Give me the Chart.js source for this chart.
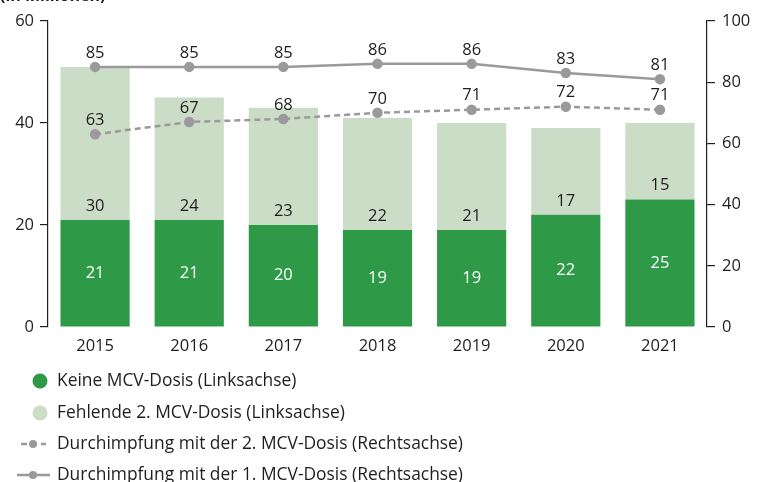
<!DOCTYPE html>
<html>
<head>
<meta charset="utf-8">
<script src="https://cdn.jsdelivr.net/npm/chart.js@4.4.1/dist/chart.umd.min.js"></script>
<style>
    html, body { margin: 0; padding: 0; background: #fff; }
    canvas { display: block; }
</style>
</head>
<body>
<canvas id="chart" width="764" height="482"></canvas>
<script>
// data (Millionen / Prozent)
const years = ['2015', '2016', '2017', '2018', '2019', '2020', '2021'];
const keineDosis = [21, 21, 20, 19, 19, 22, 25];
const fehlendeDosis = [30, 24, 23, 22, 21, 17, 15];
const durchimpfung2 = [63, 67, 68, 70, 71, 72, 71];
const durchimpfung1 = [85, 85, 85, 86, 86, 83, 81];
const leftTicks = [0, 20, 40, 60];
const rightTicks = [0, 20, 40, 60, 80, 100];

const darkGreen = '#2e9a48';
const lightGreen = '#cbddc7';
const grey = '#9a9a9a';
const ink = '#1e1e1e';
const fontFam = "'Open Sans', sans-serif";

Chart.defaults.font.family = fontFam;
Chart.defaults.font.size = 16;
Chart.defaults.color = ink;

// value labels on bars and line points
const valueLabels = {
    id: 'valueLabels',
    afterDatasetsDraw(chart) {
        let ctx = chart.ctx;
        ctx.save();
        ctx.font = '16.5px ' + fontFam;
        ctx.textAlign = 'center';
        ctx.textBaseline = 'middle';
        chart.data.datasets.forEach((ds, i) => {
            let meta = chart.getDatasetMeta(i);
            meta.data.forEach((el, j) => {
                let v = ds.data[j];
                if (ds.type === 'line') {
                    ctx.fillStyle = ink;
                    ctx.fillText(v, el.x, el.y - 14);
                } else if (i === 2) {
                    // dark segment: centred, white
                    ctx.fillStyle = '#ffffff';
                    ctx.fillText(v, el.x, (el.y + el.base) / 2);
                } else {
                    ctx.fillStyle = ink;
                    ctx.fillText(v, el.x, el.base - 14);
                }
            });
        });
        ctx.restore();
    }
};

// vertical legend under the plot + cut title at the top
const sideBits = {
    id: 'sideBits',
    afterDraw(chart) {
        let ctx = chart.ctx;
        ctx.save();
        ctx.fillStyle = ink;
        ctx.font = 'bold 16px ' + fontFam;
        ctx.textBaseline = 'alphabetic';
        ctx.textAlign = 'left';
        ctx.fillText('(in Millionen)', 0, 1);

        let items = [
            { kind: 'dot', color: darkGreen, ds: 2, y: 381 },
            { kind: 'dot', color: lightGreen, ds: 3, y: 413 },
            { kind: 'dash', color: grey, ds: 1, y: 444 },
            { kind: 'solid', color: grey, ds: 0, y: 475 }
        ];
        ctx.font = '17.4px ' + fontFam;
        ctx.textBaseline = 'middle';
        items.forEach(it => {
            if (it.kind === 'dot') {
                ctx.fillStyle = it.color;
                ctx.beginPath();
                ctx.arc(40, it.y, 7.5, 0, Math.PI * 2);
                ctx.fill();
            } else {
                ctx.strokeStyle = it.color;
                ctx.lineWidth = 2.5;
                ctx.beginPath();
                if (it.kind === 'dash') {
                    ctx.setLineDash([6, 4]);
                    ctx.moveTo(21, it.y);
                    ctx.lineTo(46, it.y);
                } else {
                    ctx.setLineDash([]);
                    ctx.moveTo(17, it.y);
                    ctx.lineTo(50, it.y);
                }
                ctx.stroke();
                ctx.setLineDash([]);
                ctx.fillStyle = it.color;
                ctx.beginPath();
                ctx.arc(33, it.y, 4, 0, Math.PI * 2);
                ctx.fill();
            }
            ctx.fillStyle = ink;
            ctx.fillText(chart.data.datasets[it.ds].label, 57, it.y);
        });
        ctx.restore();
    }
};

new Chart(document.getElementById('chart'), {
    data: {
        labels: years,
        datasets: [
            {
                type: 'line',
                label: 'Durchimpfung mit der 1. MCV-Dosis (Rechtsachse)',
                data: durchimpfung1,
                yAxisID: 'yR',
                borderColor: grey,
                backgroundColor: grey,
                borderWidth: 2.5,
                pointRadius: 4,
                pointHoverRadius: 4,
                tension: 0,
                order: 0
            },
            {
                type: 'line',
                label: 'Durchimpfung mit der 2. MCV-Dosis (Rechtsachse)',
                data: durchimpfung2,
                yAxisID: 'yR',
                borderColor: grey,
                backgroundColor: grey,
                borderWidth: 2.5,
                borderDash: [6, 4],
                pointRadius: 4,
                pointHoverRadius: 4,
                tension: 0,
                order: 0
            },
            {
                type: 'bar',
                label: 'Keine MCV-Dosis (Linksachse)',
                data: keineDosis,
                yAxisID: 'yL',
                stack: 'mcv',
                backgroundColor: darkGreen,
                barPercentage: 0.735,
                categoryPercentage: 1,
                order: 1
            },
            {
                type: 'bar',
                label: 'Fehlende 2. MCV-Dosis (Linksachse)',
                data: fehlendeDosis,
                yAxisID: 'yL',
                stack: 'mcv',
                backgroundColor: lightGreen,
                barPercentage: 0.735,
                categoryPercentage: 1,
                order: 1
            }
        ]
    },
    options: {
        responsive: false,
        animation: false,
        layout: { padding: { top: 21, left: 0, right: 0, bottom: 0 } },
        plugins: {
            legend: { display: false },
            title: { display: false },
            tooltip: { enabled: false }
        },
        scales: {
            x: {
                stacked: true,
                grid: { display: false, drawTicks: false },
                border: { display: false },
                ticks: { padding: 9, font: { size: 16.5 }, color: ink },
                afterFit(s) { s.height = 155; }
            },
            yL: {
                position: 'left',
                stacked: true,
                min: 0,
                max: 60,
                afterBuildTicks(s) { s.ticks = leftTicks.map(v => ({ value: v })); },
                grid: { drawOnChartArea: false, drawTicks: true, tickLength: 8, color: ink, lineWidth: 1.2 },
                border: { display: true, color: ink, width: 1.2 },
                ticks: { padding: 6, font: { size: 16.5 }, color: ink },
                afterFit(s) { s.width = 48; }
            },
            yR: {
                position: 'right',
                min: 0,
                max: 100,
                afterBuildTicks(s) { s.ticks = rightTicks.map(v => ({ value: v })); },
                grid: { drawOnChartArea: false, drawTicks: true, tickLength: 8, color: ink, lineWidth: 1.2 },
                border: { display: true, color: ink, width: 1.2 },
                ticks: { padding: 7, font: { size: 16.5 }, color: ink },
                afterFit(s) { s.width = 57; }
            }
        }
    },
    plugins: [valueLabels, sideBits]
});
</script>
</body>
</html>
